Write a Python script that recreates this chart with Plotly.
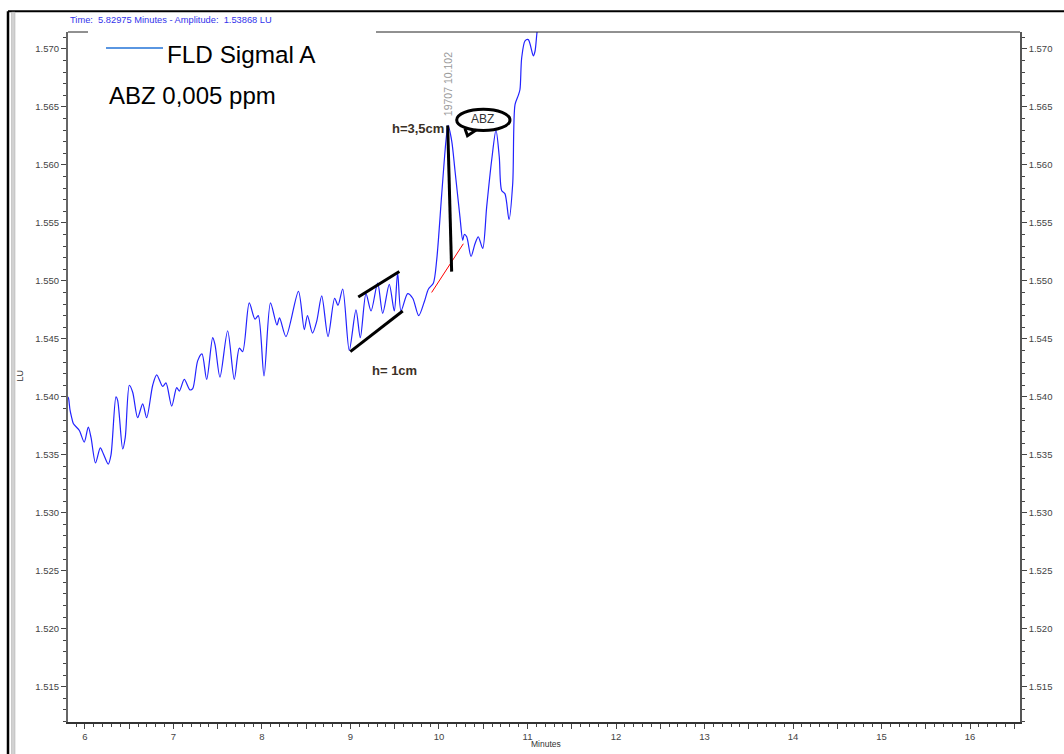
import plotly.graph_objects as go

# ---------------- data ----------------
time_min = [5.808, 5.816, 5.830, 5.847, 5.868, 5.936, 5.992, 6.037, 6.068, 6.119, 6.173, 6.207,
            6.263, 6.294, 6.350, 6.369, 6.426, 6.455, 6.501, 6.539, 6.595, 6.652, 6.697,
            6.765, 6.810, 6.878, 6.915, 6.980, 7.036, 7.066, 7.122, 7.186, 7.217, 7.273,
            7.322, 7.375, 7.443, 7.469, 7.525, 7.612, 7.687, 7.744, 7.782, 7.856, 7.921,
            7.958, 8.023, 8.096, 8.169, 8.198, 8.271, 8.412, 8.478, 8.514, 8.571, 8.618,
            8.675, 8.746, 8.821, 8.859, 8.912, 8.986, 9.062, 9.111, 9.175, 9.232, 9.307,
            9.364, 9.438, 9.495, 9.533, 9.571, 9.646, 9.703, 9.771, 9.834, 9.881, 9.936,
            9.974, 10.031, 10.079, 10.102, 10.143, 10.181, 10.237, 10.268, 10.286, 10.313,
            10.362, 10.407, 10.444, 10.494, 10.539, 10.595, 10.644, 10.681, 10.708, 10.746,
            10.791, 10.833, 10.859, 10.896, 10.915, 10.934, 10.972, 11.009, 11.066, 11.085,
            11.107, 11.150]
amplitude_lu = [1.5400, 1.5398, 1.5389, 1.5383, 1.5377, 1.5371, 1.5361, 1.5374, 1.5365, 1.5343,
                1.5356, 1.5351, 1.5342, 1.5350, 1.5400, 1.5397, 1.5355, 1.5365, 1.5410, 1.5404,
                1.5382, 1.5394, 1.5382, 1.5410, 1.5419, 1.5409, 1.5412, 1.5392, 1.5408, 1.5405,
                1.5415, 1.5406, 1.5407, 1.5431, 1.5437, 1.5415, 1.5451, 1.5445, 1.5417, 1.5457,
                1.5415, 1.5442, 1.5439, 1.5481, 1.5467, 1.5470, 1.5418, 1.5481, 1.5462, 1.5468,
                1.5452, 1.5491, 1.5458, 1.5470, 1.5455, 1.5465, 1.5487, 1.5452, 1.5485, 1.5479,
                1.5493, 1.5440, 1.5475, 1.5451, 1.5489, 1.5474, 1.5498, 1.5472, 1.5497, 1.5474,
                1.5507, 1.5474, 1.5489, 1.5485, 1.5470, 1.5482, 1.5493, 1.5498, 1.5518, 1.5575,
                1.5621, 1.5634, 1.5621, 1.5595, 1.5555, 1.5535, 1.5540, 1.5538, 1.5521, 1.5532,
                1.5538, 1.5528, 1.5564, 1.5604, 1.5630, 1.5607, 1.5578, 1.5575, 1.5553, 1.5584,
                1.5652, 1.5660, 1.5665, 1.5692, 1.5707, 1.5708, 1.5694, 1.5698, 1.5714, 1.5740]

# integration baseline (red) and hand-drawn measurement lines
baseline_t = [9.917, 10.275]
baseline_v = [1.5490, 1.5532]
peak_height_t = [10.098, 10.143]
peak_height_v = [1.5634, 1.5508]
noise_upper_t = [9.088, 9.552]
noise_upper_v = [1.5486, 1.5508]
noise_lower_t = [8.998, 9.590]
noise_lower_v = [1.5439, 1.5474]

peak_time = 10.102
peak_label = "19707 10.102"

x_tickvals = [6, 6.5, 7, 7.5, 8, 8.5, 9, 9.5, 10, 10.5, 11, 11.5, 12, 12.5, 13, 13.5,
              14, 14.5, 15, 15.5, 16, 16.5]
x_ticktext = ["6", "", "7", "", "8", "", "9", "", "10", "", "11", "", "12", "", "13", "",
              "14", "", "15", "", "16", ""]

X_RANGE = [5.808, 16.565]
Y_RANGE = [1.51196, 1.57146]

# ---------------- figure ----------------
FONT = "Arial, Liberation Sans, sans-serif"
fig = go.Figure()

fig.add_trace(go.Scatter(x=time_min, y=amplitude_lu, mode="lines",
                         line=dict(color="rgb(35,35,255)", width=1.2, shape="spline", smoothing=0.8),
                         hoverinfo="x+y", showlegend=False))
fig.add_trace(go.Scatter(x=baseline_t, y=baseline_v, mode="lines",
                         line=dict(color="red", width=1), showlegend=False))
for tx, vy in [(peak_height_t, peak_height_v), (noise_upper_t, noise_upper_v),
               (noise_lower_t, noise_lower_v)]:
    fig.add_trace(go.Scatter(x=tx, y=vy, mode="lines",
                             line=dict(color="black", width=3), showlegend=False))
# helper trace for right axis
fig.add_trace(go.Scatter(x=[time_min[1]], y=[amplitude_lu[1]], yaxis="y2", mode="markers",
                         marker=dict(opacity=0), hoverinfo="skip", showlegend=False))

axis_common = dict(showgrid=False, zeroline=False, showline=True, ticks="outside",
                   ticklen=5, tickwidth=1, tickcolor="#444",
                   tickfont=dict(family=FONT, size=9.5, color="#444"))

fig.update_layout(
    width=1064, height=754,
    margin=dict(l=68, r=44, t=32, b=27),
    paper_bgcolor="white", plot_bgcolor="white",
    showlegend=False,
    xaxis=dict(range=X_RANGE, tickvals=x_tickvals, ticktext=x_ticktext,
               linecolor="#333", linewidth=1.5,
               minor=dict(dtick=0.1, tick0=6, ticks="outside", ticklen=3, tickcolor="#444"),
               **axis_common),
    yaxis=dict(range=Y_RANGE, dtick=0.005, tick0=1.5, tickformat=".3f",
               linecolor="#666", linewidth=2,
               minor=dict(dtick=0.001, tick0=1.5, ticks="outside", ticklen=3, tickcolor="#444"),
               **axis_common),
    yaxis2=dict(range=Y_RANGE, dtick=0.005, tick0=1.5, tickformat=".3f", overlaying="y",
                side="right", matches="y", linecolor="#555", linewidth=1.5,
                minor=dict(dtick=0.001, tick0=1.5, ticks="outside", ticklen=3, tickcolor="#444"),
                **axis_common),
)

W, H, L, T = 952.0, 695.0, 68.0, 32.0


def px(xp):
    return (xp - L) / W


def py(yp):
    return (T + H - yp) / H


shapes = [
    # top frame of plot (interrupted by legend box)
    dict(type="line", xref="paper", yref="paper", x0=0, x1=px(88), y0=1, y1=1,
         line=dict(color="#222", width=1)),
    dict(type="line", xref="paper", yref="paper", x0=px(376), x1=1, y0=1, y1=1,
         line=dict(color="#222", width=1)),
    # outer window frame
    dict(type="line", xref="paper", yref="paper", x0=px(8), x1=px(1064), y0=py(11), y1=py(11),
         line=dict(color="black", width=2)),
    dict(type="line", xref="paper", yref="paper", x0=px(8), x1=px(8), y0=py(11), y1=py(760),
         line=dict(color="black", width=2.5)),
    dict(type="rect", xref="paper", yref="paper", x0=px(11.5), x1=px(15), y0=py(760), y1=py(12),
         fillcolor="#d2d2d2", line=dict(color="#aaa", width=0.5)),
    # legend line sample
    dict(type="line", xref="paper", yref="paper", x0=px(106), x1=px(163), y0=py(48), y1=py(48),
         line=dict(color="rgb(90,150,225)", width=2)),
    # ABZ speech bubble
    dict(type="circle", xref="x", yref="y", x0=10.200, x1=10.802, y0=1.56296, y1=1.56480,
         line=dict(color="black", width=3)),
    dict(type="path", xref="x", yref="y",
         path="M 10.294,1.56312 L 10.322,1.56252 L 10.420,1.56300",
         line=dict(color="black", width=3)),
]
fig.update_layout(shapes=shapes)

NB = "\u00a0"
annotations = [
    dict(xref="paper", yref="paper", x=0, y=py(20), xanchor="left", yanchor="middle",
         text=f"Time:{NB}{NB}5.82975 Minutes - Amplitude:{NB}{NB}1.53868 LU",
         showarrow=False, font=dict(family=FONT, size=9.3, color="rgb(50,50,235)")),
    dict(xref="paper", yref="paper", x=px(165), y=py(55), xanchor="left", yanchor="middle",
         text="FLD Sigmal A", showarrow=False, font=dict(family=FONT, size=24.3, color="black")),
    dict(xref="paper", yref="paper", x=px(107), y=py(96), xanchor="left", yanchor="middle",
         text="ABZ 0,005 ppm", showarrow=False, font=dict(family=FONT, size=24, color="black")),
    dict(xref="paper", yref="paper", x=px(20), y=py(378), xanchor="center", yanchor="middle",
         text="LU", textangle=-90, showarrow=False, font=dict(family=FONT, size=9, color="#333")),
    dict(xref="paper", yref="paper", x=px(546), y=py(749.5), xanchor="center", yanchor="middle",
         text="Minutes", showarrow=False, font=dict(family=FONT, size=8.5, color="#333")),
    dict(xref="x", yref="y", x=9.763, y=1.56315, xanchor="center", yanchor="middle",
         text="<b>h=3,5cm</b>", showarrow=False, font=dict(family=FONT, size=13, color="#3a3026")),
    dict(xref="x", yref="y", x=9.492, y=1.54227, xanchor="center", yanchor="middle",
         text="<b>h= 1cm</b>", showarrow=False, font=dict(family=FONT, size=13, color="#3a3026")),
    dict(xref="x", yref="y", x=10.497, y=1.56392, xanchor="center", yanchor="middle",
         text="ABZ", showarrow=False, font=dict(family=FONT, size=12, color="#333")),
    dict(xref="x", yref="y", x=peak_time, y=1.56696, xanchor="center", yanchor="middle",
         text=peak_label, textangle=-90, showarrow=False,
         font=dict(family=FONT, size=10.5, color="#999")),
]
fig.update_layout(annotations=annotations)

fig.write_html("out.html", config={"displayModeBar": False},
               post_script="document.body.style.margin='0';")
